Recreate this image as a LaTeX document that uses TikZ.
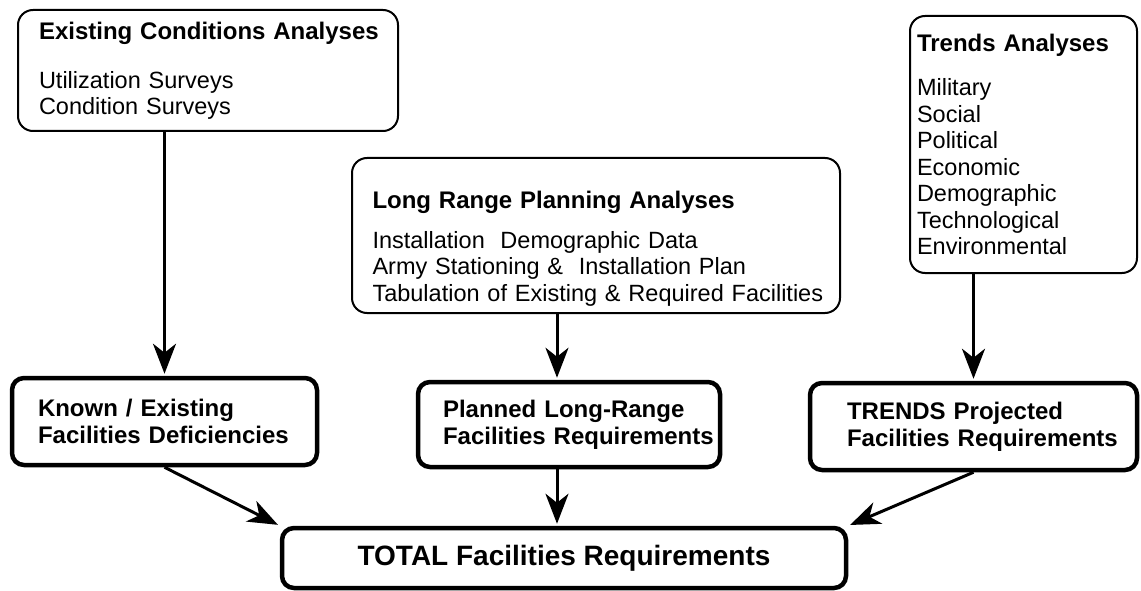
\documentclass[tikz,border=0pt]{standalone}
\usepackage{fontspec}
\setmainfont{Liberation Sans}
\usepackage{tikz}
\usetikzlibrary{arrows.meta}
\hfuzz=30pt
\newcommand{\boxtitle}[1]{\mbox{\fontsize{24}{26.5}\selectfont\bfseries #1}}
\tikzstyle{analysis} = [rectangle, draw, line width=2pt, rounded corners=15pt, inner sep=0pt, align=left, font=\fontsize{23.5}{26.5}\selectfont]
\tikzstyle{outcome} = [rectangle, draw, line width=4.5pt, rounded corners=12pt, inner sep=0pt, align=left, font=\bfseries\fontsize{24}{27}\selectfont]
\tikzstyle{grandtotal} = [rectangle, draw, line width=4.5pt, rounded corners=12pt, inner sep=0pt, align=center, font=\bfseries\fontsize{28}{32}\selectfont]
\tikzstyle{arrow} = [-{Stealth[length=30pt, width=23pt, inset=9pt]}, line width=3pt, shorten >=2pt]

\begin{document}
\begin{tikzpicture}[x=1pt, y=-1pt]
\useasboundingbox (0,0) rectangle (1141,591);

% Top row - the three analyses
\node[analysis, minimum width=380pt, minimum height=121pt, text width=338pt] (eca) at (208,70.5) {\boxtitle{Existing Conditions Analyses}\\[22.5pt] Utilization Surveys\\ Condition Surveys};
\node[analysis, minimum width=488pt, minimum height=155pt, text width=447pt] (lrp) at (596,235.5) {\rule{0pt}{43pt}\boxtitle{Long Range Planning Analyses}\\[13.5pt] Installation\ \ Demographic Data\\ Army Stationing \&\ \ Installation Plan\\ \mbox{Tabulation of Existing \& Required Facilities}};
\node[analysis, minimum width=227pt, minimum height=257pt, text width=213pt] (ta) at (1023.5,144.5) {\boxtitle{Trends Analyses}\\[17.5pt] Military\\ Social\\ Political\\ Economic\\ Demographic\\ Technological\\ Environmental};

% Second row - facilities requirements
\node[outcome, minimum width=305pt, minimum height=87pt, text width=253pt] (kef) at (164.5,421.5) {Known / Existing\\ \mbox{Facilities Deficiencies}};
\node[outcome, minimum width=302pt, minimum height=85pt, text width=252pt] (lrf) at (569,424.5) {Planned Long-Range\\ \mbox{Facilities Requirements}};
\node[outcome, minimum width=327pt, minimum height=87pt, text width=253pt] (tpf) at (973.5,426.5) {TRENDS Projected\\ \mbox{Facilities Requirements}};

% Bottom - total
\node[grandtotal, minimum width=564pt, minimum height=60pt] (total) at (564,558) {TOTAL Facilities Requirements};

% Analyses to requirements
\draw[arrow] (kef.north |- eca.south) -- (kef.north);
\draw[arrow] ([xshift=-39pt]lrp.south) -- ([xshift=-12pt]lrf.north);
\draw[arrow] (tpf.north |- ta.south) -- (tpf.north);

% Requirements to total
\draw[arrow] (kef.south) -- (total.north west);
\draw[arrow] ([xshift=-12pt]lrf.south) -- ([xshift=-7pt]total.north);
\draw[arrow] (tpf.south) -- (total.north east);

\end{tikzpicture}
\end{document}
